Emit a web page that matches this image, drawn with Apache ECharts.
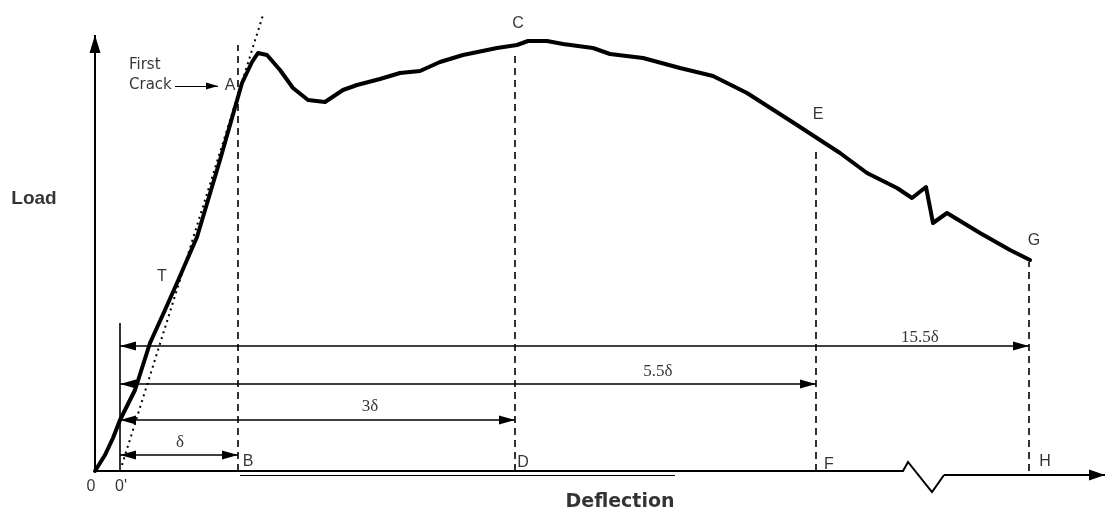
<!DOCTYPE html>
<html><head><meta charset="utf-8">
<script src="https://cdn.jsdelivr.net/npm/echarts@6/dist/echarts.min.js"></script>
<style>html,body{margin:0;padding:0;background:#fff}#c{width:1106px;height:513px}</style>
</head><body><div id="c"></div>
<script>
// Deflection (x) and Load (y) in drawing units, origin at point "0"
const curvePoints = [
  [0,0],[10,16],[18,33],[25,51],[40,81],[55,128],[70,161],[82,188],[102,234],[125,311],
  [147,388],[157,409],[163,418],[172,416],[185,401],[198,383],[213,371],[230,369],[248,381],
  [262,386],[285,392],[305,398],[325,400],[345,409],[368,416],[402,423],[422,426],[433,430],
  [452,430],[468,427],[498,423],[515,417],[548,413],[585,403],[618,395],[652,378],[702,346],
  [725,331],[745,318],[772,298],[802,283],[817,273],[831,284],[838,248],[852,258],[885,238],
  [915,221],[935,211]
];
const tangentLine = [[27,6],[168,456]];
// vertical reference lines: [x, top]
const dashedVerticals = [[143,426],[420,416],[721,321],[934,209]];
const originPrimeLine = [[25,0],[25,148]];
// dimension arrows: [xStart, xEnd, y, label, labelX, labelY]
const dimArrows = [
  [25,143,16,'δ',85,28],
  [25,420,51,'3δ',275,64],
  [25,721,87,'5.5δ',563,99],
  [25,934,125,'15.5δ',825,133]
];
const xAxisPath = [[0,0],[808,0],[813,9],[837,-21],[849,-4]];
const xAxisArrow = [[849,-4],[1010,-4]];
const yAxisArrow = [[0,0],[0,436]];
const underLine = [[145,-4],[580,-4]];
const crackArrow = [[80,385],[123,385]];
// point labels: [text, x, y]
const pointLabels = [
  ['A',135,385],['C',423,447],['E',723,356],['G',939,230],['T',67,194],
  ['B',153,9],['D',428,8],['F',734,6],['H',950,9],['0',-4,-16],["0'",26,-16]
];
const crackText = [['First',34,406],['Crack',34,386]];
const axisTitles = [['Load',-61,272],['Deflection',525,-31]];

const chart = echarts.init(document.getElementById('c'), null, {renderer:'canvas'});
const black = '#000';
function markLines(list){
  return list.map(it => {
    const sz = it.size || [9,16];
    const off = [0, sz[1] / 2];
    return [
      {coord: it.a, symbol: it.s0 || 'none', symbolSize: sz, symbolOffset: off,
       lineStyle:{color:black,width:it.w||1.5,type:it.type||'solid'}},
      {coord: it.b, symbol: it.s1 || 'none', symbolSize: sz, symbolOffset: off}
    ];
  });
}
const mlItems = [];
dimArrows.forEach(d => mlItems.push({a:[d[0],d[2]], b:[d[1],d[2]], s0:'triangle', s1:'triangle', size:[9,16], w:1.5}));
mlItems.push({a:xAxisArrow[0], b:xAxisArrow[1], s1:'triangle', size:[11,16], w:2});
mlItems.push({a:yAxisArrow[0], b:yAxisArrow[1], s1:'triangle', size:[11,18], w:2});
mlItems.push({a:crackArrow[0], b:crackArrow[1], s1:'triangle', size:[7,12], w:1.2});
mlItems.push({a:originPrimeLine[0], b:originPrimeLine[1], w:1.6});
mlItems.push({a:underLine[0], b:underLine[1], w:1});
dashedVerticals.forEach(v => mlItems.push({a:[v[0],0], b:[v[0],v[1]], w:1.6, type:[7,5]}));

const labelSeries = (arr, style) => ({
  type:'scatter', symbolSize:0, silent:true, z:10,
  data: arr.map(t => ({value:[t[1],t[2]], name:t[0]})),
  label:Object.assign({show:true, position:'inside', formatter:p=>p.name, color:black}, style)
});

chart.setOption({
  animation:false,
  backgroundColor:'#fff',
  grid:{left:0,right:0,top:0,bottom:0},
  xAxis:{type:'value',min:-95,max:1011,show:false},
  yAxis:{type:'value',min:-42,max:471,show:false},
  series:[
    {type:'line', data:curvePoints, symbol:'none', silent:true, z:5,
     lineStyle:{color:black,width:4,join:'round',cap:'round'}},
    {type:'line', data:tangentLine, symbol:'none', silent:true,
     lineStyle:{color:black,width:2,type:[2,4]},
     markLine:{silent:true, symbol:'none', label:{show:false}, data:markLines(mlItems)}},
    {type:'line', data:xAxisPath, symbol:'none', silent:true,
     lineStyle:{color:black,width:2,join:'miter'}},
    labelSeries(pointLabels,{fontFamily:'Liberation Sans',fontSize:16}),
    labelSeries(crackText,{fontFamily:'DejaVu Sans',fontSize:15,align:'left'}),
    labelSeries(dimArrows.map(d=>[d[3],d[4],d[5]]),{fontFamily:'Liberation Serif',fontSize:17}),
    labelSeries([axisTitles[0]],{fontFamily:'Liberation Sans',fontSize:19,fontWeight:'bold'}),
    labelSeries([axisTitles[1]],{fontFamily:'DejaVu Sans',fontSize:19,fontWeight:'bold'})
  ]
});
</script></body></html>
